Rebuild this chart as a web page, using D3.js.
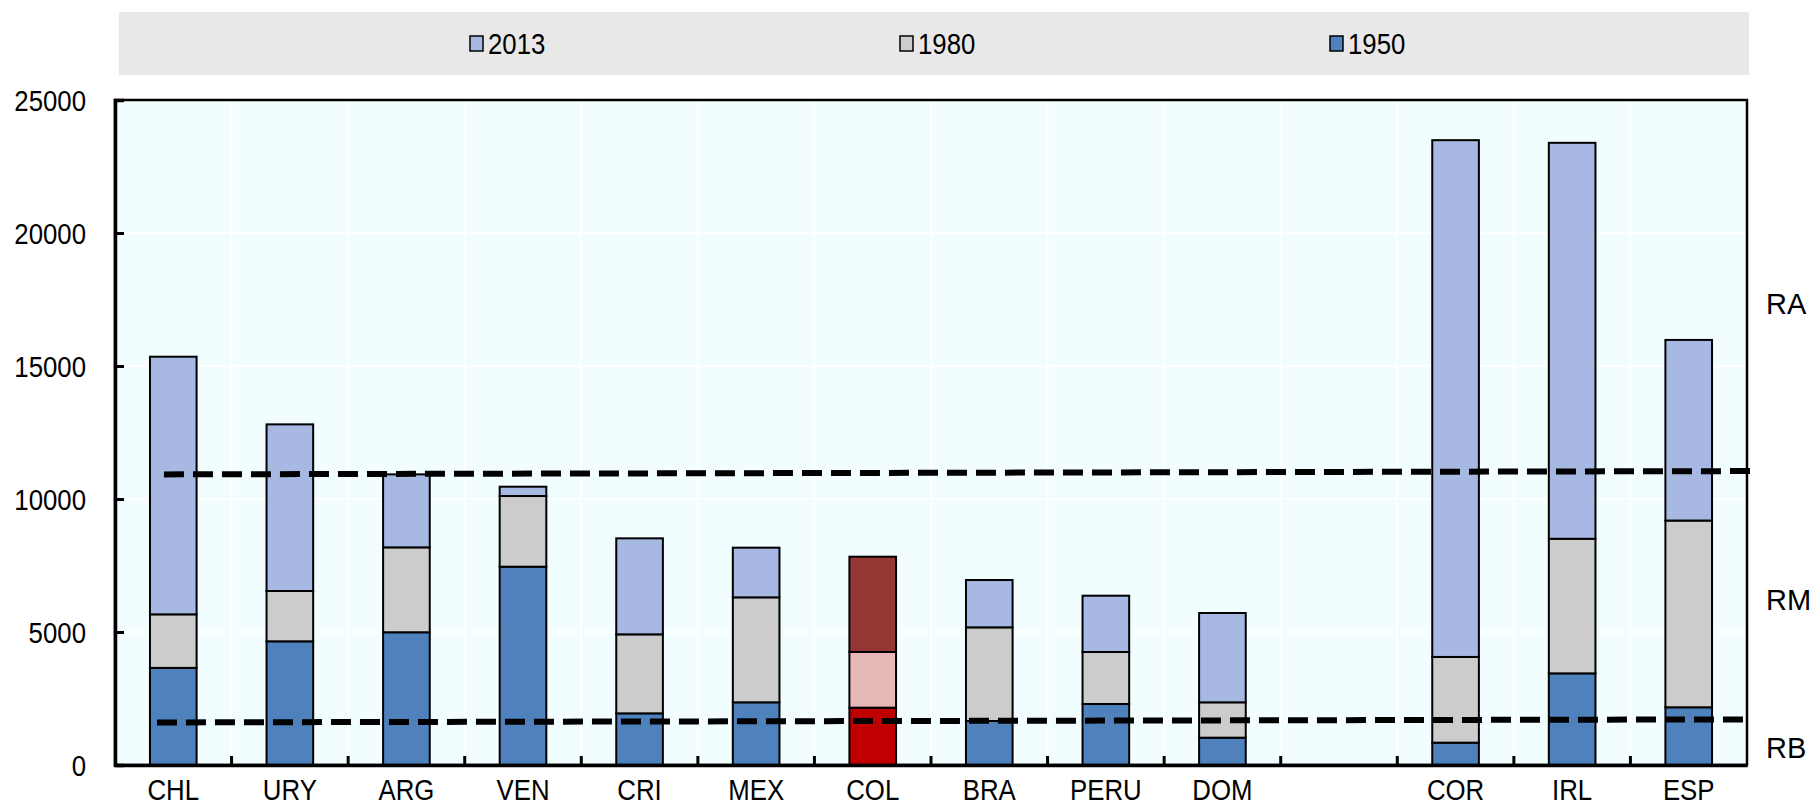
<!DOCTYPE html>
<html>
<head>
<meta charset="utf-8">
<script src="https://cdn.jsdelivr.net/npm/d3@7"></script>
<style>
  body { margin: 0; background: #fff; }
  svg text { font-family: "Liberation Sans", Arial, sans-serif; fill: #000; }
</style>
</head>
<body>
<div id="chart"></div>
<script>
// categories ("" is the empty gap slot between the two groups)
let categories = ["CHL", "URY", "ARG", "VEN", "CRI", "MEX", "COL", "BRA", "PERU", "DOM", "", "COR", "IRL", "ESP"]
// levels per year (stacked as levels: 1950 at bottom, 1980 up to its level, 2013 on top)
let v1950 = [3650, 4650, 4990, 7455, 1942, 2356, 2155, 1654, 2293, 1027, null, 840, 3445, 2170]
let v1980 = [5664, 6541, 8182, 10112, 4912, 6303, 4248, 5175, 4248, 2356, null, 4062, 8505, 9190]
let v2013 = [15349, 12806, 10926, 10462, 8521, 8170, 7831, 6954, 6365, 5714, null, 23490, 23390, 15980]
let highlight = "COL"
let legendYears = ["2013", "1980", "1950"]
let yTicks = [0, 5000, 10000, 15000, 20000, 25000]
// dashed threshold lines: value at left end, value at right end
let thresholds = [
    { name: "high", from: 10925, to: 11050 },
    { name: "low", from: 1600, to: 1715 }
]
// band labels on the right
let bandLabels = [
    { text: "RA", value: 17350 },
    { text: "RM", value: 6200 },
    { text: "RB", value: 640 }
]

let colors = { "2013": "#a7b8e2", "1980": "#cccccc", "1950": "#4f81bd" }
let hiColors = { "2013": "#953735", "1980": "#e6b9b8", "1950": "#c00000" }

let width = 1810, height = 806
let plotLeft = 115, plotRight = 1747, plotTop = 100, plotBottom = 765
let narrow = 0.86   // condensed look of the original narrow font

let svg = d3.select("#chart").append("svg").attr("width", width).attr("height", height)

// legend band
svg.append("rect").attr("x", 119).attr("y", 12).attr("width", 1630).attr("height", 63).attr("fill", "#e8e8e8")
let legendX = d3.scalePoint().domain(legendYears).range([470, 1330])
let lg = svg.selectAll(".lg").data(legendYears).enter().append("g")
    .attr("transform", d => "translate(" + legendX(d) + ",43)")
lg.append("rect").attr("x", 0).attr("y", -7).attr("width", 13).attr("height", 15)
    .attr("fill", d => colors[d]).attr("stroke", "#000").attr("stroke-width", 1.5)
lg.append("text").attr("x", 18 / narrow).attr("y", 11).attr("transform", "scale(" + narrow + ",1)")
    .style("font-size", "30px").text(d => d)

let xscale = d3.scaleBand().domain(categories).range([plotLeft, plotRight]).paddingInner(0.6).paddingOuter(0.3)
let yscale = d3.scaleLinear().domain([0, 25000]).range([plotBottom, plotTop])
let step = xscale.step(), bw = xscale.bandwidth()

// plot background
svg.append("rect").attr("x", plotLeft).attr("y", plotTop).attr("width", plotRight - plotLeft).attr("height", plotBottom - plotTop).attr("fill", "#f1fdfe")

// white gridlines
let boundaries = categories.slice(1).map(c => xscale(c) - (step - bw) / 2)
svg.append("g").selectAll("line").data(yTicks.slice(1, -1)).enter().append("line")
    .attr("x1", plotLeft).attr("x2", plotRight).attr("y1", d => yscale(d)).attr("y2", d => yscale(d))
    .attr("stroke", "#fff").attr("stroke-width", 2)
svg.append("g").selectAll("line").data(boundaries).enter().append("line")
    .attr("x1", d => d).attr("x2", d => d).attr("y1", plotTop).attr("y2", plotBottom)
    .attr("stroke", "#fff").attr("stroke-width", 2)

// stacked bars
let rows = categories.map((c, i) => ({ c: c, a: v1950[i], b: v1980[i], t: v2013[i] })).filter(d => d.a != null)
let segs = []
rows.forEach(d => {
    let pal = d.c == highlight ? hiColors : colors
    segs.push({ c: d.c, y0: 0, y1: d.a, fill: pal["1950"] })
    segs.push({ c: d.c, y0: d.a, y1: d.b, fill: pal["1980"] })
    segs.push({ c: d.c, y0: d.b, y1: d.t, fill: pal["2013"] })
})
svg.append("g").selectAll("rect").data(segs).enter().append("rect")
    .attr("x", d => xscale(d.c))
    .attr("width", bw)
    .attr("y", d => yscale(d.y1))
    .attr("height", d => yscale(d.y0) - yscale(d.y1))
    .attr("fill", d => d.fill)
    .attr("stroke", "#000").attr("stroke-width", 2)

// dashed threshold lines
let lineStart = { high: xscale("CHL") + 14, low: xscale("CHL") + 7 }
let lineEnd = { high: plotRight + 3, low: plotRight - 4 }
svg.append("g").selectAll("line").data(thresholds).enter().append("line")
    .attr("x1", d => lineStart[d.name]).attr("x2", d => lineEnd[d.name])
    .attr("y1", d => yscale(d.from)).attr("y2", d => yscale(d.to))
    .attr("stroke", "#000").attr("stroke-width", 6).attr("stroke-dasharray", "20,9")

// frame
svg.append("rect").attr("x", plotLeft).attr("y", plotTop).attr("width", plotRight - plotLeft).attr("height", plotBottom - plotTop)
    .attr("fill", "none").attr("stroke", "#000").attr("stroke-width", 2.5)

// y axis
let yAxis = svg.append("g").attr("transform", "translate(" + plotLeft + ",0)")
    .call(d3.axisRight(yscale).tickValues(yTicks).tickSize(9).tickFormat(d3.format("d")))
yAxis.select(".domain").attr("stroke-width", 3.5)
yAxis.selectAll(".tick line").attr("stroke-width", 3)
yAxis.selectAll(".tick text").attr("x", -29 / narrow).attr("text-anchor", "end")
    .attr("transform", "scale(" + narrow + ",1)").style("font-size", "30px").attr("dy", "0.35em")

// x axis
let xAxis = svg.append("g").attr("transform", "translate(0," + plotBottom + ")")
    .call(d3.axisBottom(xscale).tickSize(0).tickPadding(14))
xAxis.select(".domain").attr("stroke-width", 3.5)
xAxis.selectAll(".tick text").attr("transform", "scale(" + narrow + ",1)").style("font-size", "30px").attr("dy", "0.71em")
svg.append("g").selectAll("line").data(boundaries).enter().append("line")
    .attr("x1", d => d).attr("x2", d => d).attr("y1", plotBottom).attr("y2", plotBottom - 9)
    .attr("stroke", "#000").attr("stroke-width", 3)

// right-side labels
svg.append("g").selectAll("text").data(bandLabels).enter().append("text")
    .attr("x", 1766).attr("y", d => yscale(d.value)).attr("dy", "0.35em")
    .style("font-size", "29px")
    .text(d => d.text)
</script>
</body>
</html>
